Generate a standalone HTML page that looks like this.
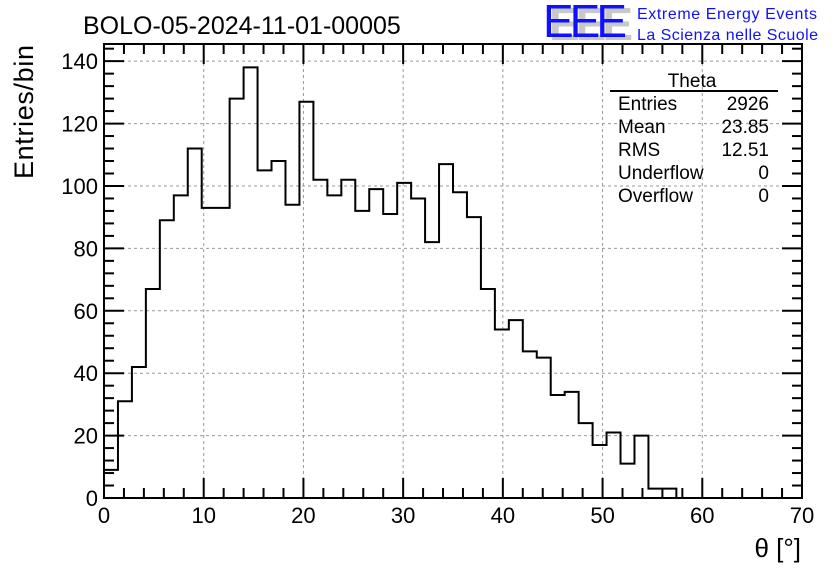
<!DOCTYPE html>
<html><head><meta charset="utf-8"><style>
body{margin:0;background:#fff}
svg{display:block;font-family:"Liberation Sans",sans-serif}
</style></head><body>
<svg id="c" width="836" height="572" xmlns="http://www.w3.org/2000/svg">
<text x="83" y="34" font-size="25">BOLO-05-2024-11-01-00005</text>
<g>
<text x="549" y="40" font-size="46" fill="#c8c8c8" font-weight="bold" textLength="84">EEE</text>
<text x="543" y="37" font-size="46" fill="#1010ff" textLength="84">EEE</text>
<text x="637" y="19" font-size="16" fill="#1010ff" textLength="180">Extreme Energy Events</text>
<text x="637" y="40" font-size="16" fill="#1010ff" textLength="181">La Scienza nelle Scuole</text>
</g>
<g id="grid"></g>
<path id="hist" fill="none" stroke="#000" stroke-width="2"/>
<rect x="104" y="44" width="698" height="454" fill="none" stroke="#000" stroke-width="2"/>
<g id="ticks" stroke="#000" stroke-width="2"></g>
<g id="labels" font-size="22"></g>
<text x="801" y="557" font-size="26" text-anchor="end">θ [°]</text>
<text transform="translate(33,179) rotate(-90)" font-size="27" textLength="134">Entries/bin</text>
<g font-size="19">
<text x="692" y="87" text-anchor="middle">Theta</text>
<line x1="610" y1="91" x2="778" y2="91" stroke="#000" stroke-width="2"/>
<text x="618" y="110">Entries</text><text x="769" y="110" text-anchor="end">2926</text>
<text x="618" y="133">Mean</text><text x="769" y="133" text-anchor="end">23.85</text>
<text x="618" y="156">RMS</text><text x="769" y="156" text-anchor="end">12.51</text>
<text x="618" y="179">Underflow</text><text x="769" y="179" text-anchor="end">0</text>
<text x="618" y="202">Overflow</text><text x="769" y="202" text-anchor="end">0</text>
</g>
</svg>
<script>
const counts=[9,31,42,67,89,97,112,93,93,128,138,105,108,94,127,102,97,102,92,99,91,101,96,82,107,98,90,67,54,57,47,45,33,34,24,17,21,11,20,3,3];
const binWidth=1.4;
const xTicks=[0,10,20,30,40,50,60,70];
const yTicks=[0,20,40,60,80,100,120,140];
const X0=104,X1=802,Y0=498,Y1=44,XMAX=70,YMAX=145.5;
const sx=v=>X0+v/XMAX*(X1-X0), sy=v=>Y0-v/YMAX*(Y0-Y1);
const NS="http://www.w3.org/2000/svg";
function mk(t,a,p){const e=document.createElementNS(NS,t);for(const k in a)e.setAttribute(k,a[k]);p.appendChild(e);return e;}
let d="M"+sx(0)+","+sy(0);
counts.forEach((c,i)=>{d+=" L"+sx(i*binWidth)+","+sy(c)+" L"+sx((i+1)*binWidth)+","+sy(c);});
d+=" L"+sx(counts.length*binWidth)+","+sy(0);
document.getElementById('hist').setAttribute('d',d);
const g=document.getElementById('grid'),tk=document.getElementById('ticks'),lb=document.getElementById('labels');
xTicks.forEach(v=>{
 if(v>0&&v<XMAX){const l=mk('line',{x1:sx(v),x2:sx(v),y1:Y0,y2:Y1,stroke:'#999','stroke-dasharray':'3,3'},g);
 }
 const t=mk('text',{x:sx(v),y:523,'text-anchor':'middle'},lb);t.textContent=v;
 
});
yTicks.forEach(v=>{
 if(v>0){const l=mk('line',{x1:X0,x2:X1,y1:sy(v),y2:sy(v),stroke:'#999','stroke-dasharray':'3,3'},g);
 }
 const t=mk('text',{x:98,y:sy(v)+8,'text-anchor':'end'},lb);t.textContent=v;
 
});
for(let v=0;v<=XMAX;v+=2){const L=v%10===0?20:10;
 mk('line',{x1:sx(v),x2:sx(v),y1:Y0,y2:Y0-L},tk);mk('line',{x1:sx(v),x2:sx(v),y1:Y1,y2:Y1+L},tk);}
for(let v=0;v<=YMAX;v+=4){const L=v%20===0?20:10;
 mk('line',{x1:X0,x2:X0+L,y1:sy(v),y2:sy(v)},tk);mk('line',{x1:X1,x2:X1-L,y1:sy(v),y2:sy(v)},tk);}
</script>
</body></html>
